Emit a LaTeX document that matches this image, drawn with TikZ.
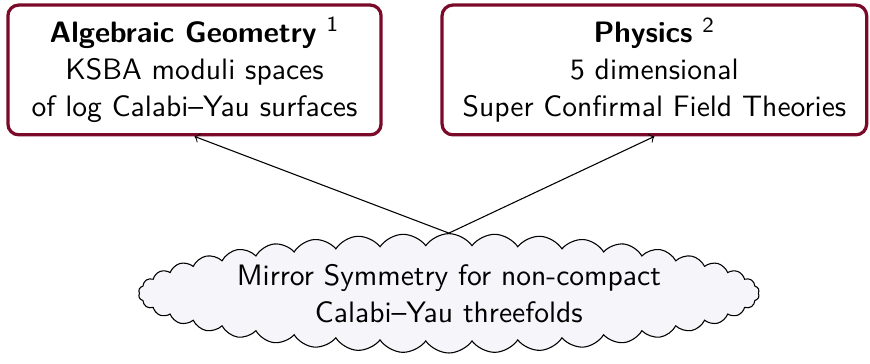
\documentclass[tikz,border=0pt,11pt]{standalone}
\usetikzlibrary{shapes.symbols}
\definecolor{boxred}{RGB}{123,10,42}
\definecolor{cloudgray}{RGB}{245,245,250}
\tikzset{
  topicbox/.style={draw=boxred, very thick, rounded corners=4pt, align=center,
    minimum height=1.69cm, inner sep=2pt, font=\sffamily},
  basecloud/.style={cloud, draw, fill=cloudgray, cloud puffs=42, cloud puff arc=110,
    cloud ignores aspect, inner xsep=2.85cm, inner ysep=0.44cm},
  cloudtext/.style={align=center, font=\sffamily}
}
\begin{document}
\begin{tikzpicture}
                \useasboundingbox (0,0) rectangle (11.33,4.74);
                % boxes
                \node[topicbox, minimum width=4.86cm] (geom) at (2.533,3.829)
                  {\textbf{Algebraic Geometry} $^{\mathsf{1}}$\\ KSBA moduli spaces\\ of log Calabi--Yau surfaces};
                \node[topicbox, minimum width=5.53cm] (phys) at (8.522,3.829)
                  {\textbf{Physics} $^{\mathsf{2}}$\\ 5 dimensional\\ Super Confirmal Field Theories};
                % cloud
                \node[basecloud, label={[cloudtext]center:Mirror Symmetry for non-compact\\ Calabi--Yau threefolds}]
                  (mirror) at (5.846,0.92) {};
                % arrows
                \draw[->] (mirror.north) -- (geom.south);
                \draw[->] (mirror.north) -- (phys.south);
            \end{tikzpicture}
\end{document}
